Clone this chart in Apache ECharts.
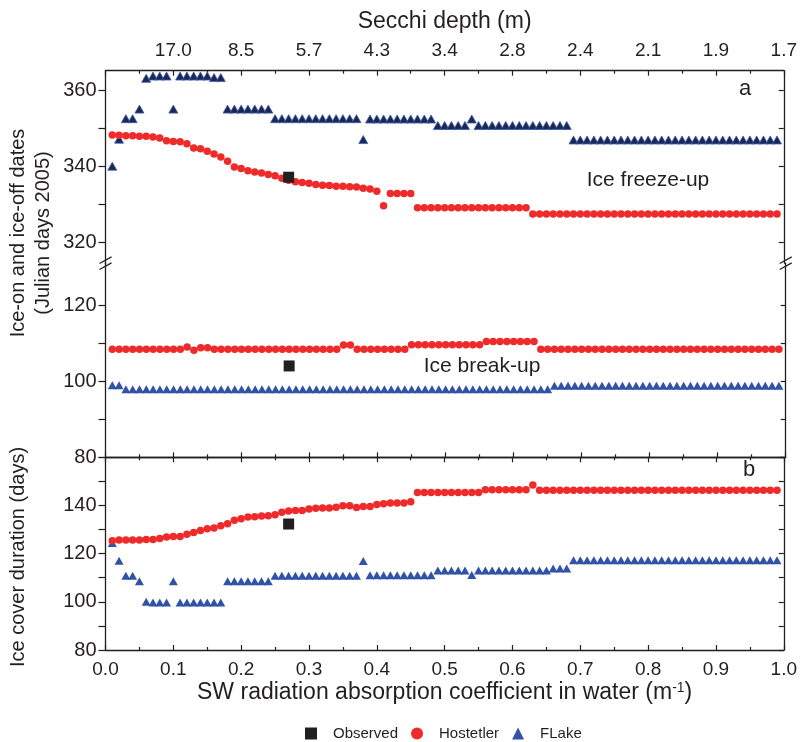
<!DOCTYPE html>
<html>
<head>
<meta charset="utf-8">
<script src="https://cdn.jsdelivr.net/npm/echarts@6.0.0/dist/echarts.min.js"></script>
<style>
  html, body { margin: 0; padding: 0; background: #fff; }
  #main { width: 800px; height: 742px; }
</style>
</head>
<body>
<div id="main"></div>
<script>
"use strict";
// absorption coefficient (m-1), one model run every 0.01
var coef = [
    0.01, 0.02, 0.03, 0.04, 0.05, 0.06, 0.07, 0.08, 0.09, 0.10,
    0.11, 0.12, 0.13, 0.14, 0.15, 0.16, 0.17, 0.18, 0.19, 0.20,
    0.21, 0.22, 0.23, 0.24, 0.25, 0.26, 0.27, 0.28, 0.29, 0.30,
    0.31, 0.32, 0.33, 0.34, 0.35, 0.36, 0.37, 0.38, 0.39, 0.40,
    0.41, 0.42, 0.43, 0.44, 0.45, 0.46, 0.47, 0.48, 0.49, 0.50,
    0.51, 0.52, 0.53, 0.54, 0.55, 0.56, 0.57, 0.58, 0.59, 0.60,
    0.61, 0.62, 0.63, 0.64, 0.65, 0.66, 0.67, 0.68, 0.69, 0.70,
    0.71, 0.72, 0.73, 0.74, 0.75, 0.76, 0.77, 0.78, 0.79, 0.80,
    0.81, 0.82, 0.83, 0.84, 0.85, 0.86, 0.87, 0.88, 0.89, 0.90,
    0.91, 0.92, 0.93, 0.94, 0.95, 0.96, 0.97, 0.98, 0.99
];
var secchiLabels = ['17.0', '8.5', '5.7', '4.3', '3.4', '2.8', '2.4', '2.1', '1.9', '1.7'];

// Hostetler model
var hostFreeze = [
    348.2, 348.1, 348.0, 348.0, 347.9, 347.9, 347.7, 347.4, 346.7, 346.5,
    346.4, 345.9, 344.8, 344.6, 343.9, 343.2, 342.4, 341.3, 339.8, 339.4,
    338.8, 338.5, 338.2, 337.8, 337.5, 336.8, 336.3, 335.9, 335.7, 335.5,
    335.2, 335.0, 334.9, 334.7, 334.7, 334.6, 334.5, 334.2, 334.0, 333.4,
    329.6, 332.8, 332.8, 332.8, 332.8, 329.1, 329.1, 329.1, 329.1, 329.1,
    329.1, 329.1, 329.1, 329.1, 329.1, 329.1, 329.1, 329.1, 329.1, 329.1,
    329.1, 329.1, 327.4, 327.4, 327.4, 327.4, 327.4, 327.4, 327.4, 327.4,
    327.4, 327.4, 327.4, 327.4, 327.4, 327.4, 327.4, 327.4, 327.4, 327.4,
    327.4, 327.4, 327.4, 327.4, 327.4, 327.4, 327.4, 327.4, 327.4, 327.4,
    327.4, 327.4, 327.4, 327.4, 327.4, 327.4, 327.4, 327.4, 327.4
];
var hostBreak = [
    108.4, 108.4, 108.4, 108.4, 108.4, 108.4, 108.4, 108.4, 108.4, 108.4,
    108.4, 109.0, 108.1, 108.8, 108.8, 108.4, 108.4, 108.4, 108.4, 108.4,
    108.4, 108.4, 108.4, 108.4, 108.4, 108.4, 108.4, 108.4, 108.4, 108.4,
    108.4, 108.4, 108.4, 108.4, 109.5, 109.5, 108.4, 108.4, 108.4, 108.4,
    108.4, 108.4, 108.4, 108.4, 109.6, 109.6, 109.6, 109.6, 109.6, 109.6,
    109.6, 109.6, 109.6, 109.6, 109.6, 110.4, 110.4, 110.4, 110.4, 110.4,
    110.4, 110.4, 110.4, 108.4, 108.4, 108.4, 108.4, 108.4, 108.4, 108.4,
    108.4, 108.4, 108.4, 108.4, 108.4, 108.4, 108.4, 108.4, 108.4, 108.4,
    108.4, 108.4, 108.4, 108.4, 108.4, 108.4, 108.4, 108.4, 108.4, 108.4,
    108.4, 108.4, 108.4, 108.4, 108.4, 108.4, 108.4, 108.4, 108.4
];
var hostDuration = [
    125.4, 125.7, 125.7, 125.7, 125.7, 125.9, 125.9, 126.3, 126.9, 127.1,
    127.1, 128.1, 128.8, 129.6, 130.3, 130.6, 131.6, 132.4, 133.9, 134.5,
    135.2, 135.3, 135.6, 135.7, 136.1, 137.2, 137.7, 137.9, 137.9, 138.5,
    138.8, 138.9, 139.0, 139.3, 139.9, 139.9, 139.2, 139.6, 139.6, 140.4,
    140.7, 141.0, 141.0, 141.0, 141.5, 145.4, 145.4, 145.4, 145.4, 145.4,
    145.4, 145.4, 145.4, 145.4, 145.4, 146.5, 146.5, 146.5, 146.5, 146.5,
    146.5, 146.5, 148.5, 146.3, 146.3, 146.3, 146.3, 146.3, 146.3, 146.3,
    146.3, 146.3, 146.3, 146.3, 146.3, 146.3, 146.3, 146.3, 146.3, 146.3,
    146.3, 146.3, 146.3, 146.3, 146.3, 146.3, 146.3, 146.3, 146.3, 146.3,
    146.3, 146.3, 146.3, 146.3, 146.3, 146.3, 146.3, 146.3, 146.3
];

// FLake model
var flakeFreeze = [
    340.0, 347.1, 352.5, 352.5, 355.0, 363.1, 363.7, 363.7, 363.7, 355.0,
    363.7, 363.7, 363.7, 363.7, 363.7, 363.3, 363.3, 355.0, 355.0, 355.0,
    355.0, 355.0, 355.0, 355.0, 352.5, 352.5, 352.5, 352.5, 352.5, 352.5,
    352.5, 352.5, 352.5, 352.5, 352.5, 352.5, 352.5, 347.0, 352.4, 352.4,
    352.4, 352.4, 352.4, 352.4, 352.4, 352.4, 352.4, 352.4, 350.7, 350.7,
    350.7, 350.7, 350.7, 352.4, 350.7, 350.7, 350.7, 350.7, 350.7, 350.7,
    350.7, 350.7, 350.7, 350.7, 350.7, 350.7, 350.7, 350.7, 346.9, 346.9,
    346.9, 346.9, 346.9, 346.9, 346.9, 346.9, 346.9, 346.9, 346.9, 346.9,
    346.9, 346.9, 346.9, 346.9, 346.9, 346.9, 346.9, 346.9, 346.9, 346.9,
    346.9, 346.9, 346.9, 346.9, 346.9, 346.9, 346.9, 346.9, 346.9
];
var flakeBreak = [
    98.9, 98.9, 97.9, 97.9, 97.9, 97.9, 97.9, 97.9, 97.9, 97.9,
    97.9, 97.9, 97.9, 97.9, 97.9, 97.9, 97.9, 97.9, 97.9, 97.9,
    97.9, 97.9, 97.9, 97.9, 97.9, 97.9, 97.9, 97.9, 97.9, 97.9,
    97.9, 97.9, 97.9, 97.9, 97.9, 97.9, 97.9, 97.9, 97.9, 97.9,
    97.9, 97.9, 97.9, 97.9, 97.9, 97.9, 97.9, 97.9, 97.9, 97.9,
    97.9, 97.9, 97.9, 97.9, 97.9, 97.9, 97.9, 97.9, 97.9, 97.9,
    97.9, 97.9, 97.9, 97.9, 97.9, 98.8, 98.8, 98.8, 98.8, 98.8,
    98.8, 98.8, 98.8, 98.8, 98.8, 98.8, 98.8, 98.8, 98.8, 98.8,
    98.8, 98.8, 98.8, 98.8, 98.8, 98.8, 98.8, 98.8, 98.8, 98.8,
    98.8, 98.8, 98.8, 98.8, 98.8, 98.8, 98.8, 98.8, 98.8
];
var flakeDuration = [
    124.4, 117.1, 110.8, 110.8, 108.5, 100.0, 99.7, 99.7, 99.7, 108.5,
    99.7, 99.7, 99.7, 99.7, 99.7, 99.7, 99.7, 108.5, 108.5, 108.5,
    108.5, 108.5, 108.5, 108.5, 110.8, 110.8, 110.8, 110.8, 110.8, 110.8,
    110.8, 110.8, 110.8, 110.8, 110.8, 110.8, 110.8, 116.9, 111.0, 111.0,
    111.0, 111.0, 111.0, 111.0, 111.0, 111.0, 111.0, 111.0, 113.0, 113.0,
    113.0, 113.0, 113.0, 111.1, 113.0, 113.0, 113.0, 113.0, 113.0, 113.0,
    113.0, 113.0, 113.0, 113.0, 113.0, 113.8, 113.8, 113.8, 117.3, 117.3,
    117.3, 117.3, 117.3, 117.3, 117.3, 117.3, 117.3, 117.3, 117.3, 117.3,
    117.3, 117.3, 117.3, 117.3, 117.3, 117.3, 117.3, 117.3, 117.3, 117.3,
    117.3, 117.3, 117.3, 117.3, 117.3, 117.3, 117.3, 117.3, 117.3
];

// observation, 2005
var obsCoef = [0.27];
var obsFreeze = [337.1];
var obsBreak = [104.0];
var obsDuration = [132.3];

var INK = '#231f20';
var RED = '#ef2a2a';
var BLUE = '#3152a6';
var NAVY = '#1c284f';
var FONT = '"Liberation Sans", Arial, Helvetica, sans-serif';

// plot frame (px)
var L = 105.5, R = 14.3;
var topA = 70.7, hA = 192.5;   // freeze-up part of panel a
var topB = 263.2, hB = 194.1;  // break-up part of panel a
var topC = 457.3, hC = 192.7;  // panel b

function pairs(xs, ys) {
    return xs.map(function (x, i) { return [x, ys[i]]; });
}

function xAxisFor(gridIndex, position, showLabel) {
    return {
        type: 'value', gridIndex: gridIndex, position: position, min: 0, max: 1, interval: 0.1,
        axisLine: {show: true, onZero: false, lineStyle: {color: INK, width: 1.3}},
        axisTick: {show: true, inside: true, length: 5, lineStyle: {color: INK, width: 1.2}},
        minorTick: {show: true, splitNumber: 2, length: 3, lineStyle: {color: INK, width: 1.2}},
        axisLabel: {show: showLabel, color: INK, fontSize: 19, fontFamily: FONT, margin: 10},
        splitLine: {show: false}
    };
}

function yAxisFor(gridIndex, position, min, max, labels, ticks) {
    var left = position === 'left';
    return {
        type: 'value', gridIndex: gridIndex, position: position, min: min, max: max,
        axisLine: {show: true, onZero: false, lineStyle: {color: INK, width: 1.3}},
        axisTick: {show: true, inside: !left, length: left ? 7 : 5, customValues: ticks,
            lineStyle: {color: INK, width: 1.2}},
        axisLabel: {show: left, customValues: labels, color: INK, fontSize: 20, fontFamily: FONT, margin: 9},
        splitLine: {show: false}
    };
}

var chart = echarts.init(document.getElementById('main'), null, {renderer: 'canvas'});

var topAxis = xAxisFor(0, 'top', true);
topAxis.axisLabel.formatter = function (v) {
    var i = Math.round(v * 10);
    return i > 0 ? secchiLabels[i - 1] : '';
};
topAxis.name = 'Secchi depth (m)';
topAxis.nameLocation = 'middle';
topAxis.nameGap = 38;
topAxis.nameTextStyle = {fontSize: 23, color: INK, fontFamily: FONT};

var bottomAxis = xAxisFor(2, 'bottom', true);
bottomAxis.axisLabel.formatter = function (v) { return v.toFixed(1); };
bottomAxis.name = 'SW radiation absorption coefficient in water (m{sup|-1})';
bottomAxis.nameLocation = 'middle';
bottomAxis.nameGap = 31;
bottomAxis.nameTextStyle = {
    fontSize: 23, color: INK, fontFamily: FONT,
    rich: {sup: {fontSize: 14, color: INK, fontFamily: FONT, verticalAlign: 'top', padding: [0, 0, 10, 0]}}
};

var ticksA = [320, 330, 340, 350, 360];
var ticksB = [80, 90, 100, 110, 120];
var ticksC = [80, 90, 100, 110, 120, 130, 140, 150, 160];

function breakMarks(x, y) {
    return [-3, 3].map(function (dy) {
        return {
            type: 'line', silent: true,
            shape: {x1: x - 6, y1: y + dy + 3.3, x2: x + 6, y2: y + dy - 3.3},
            style: {stroke: INK, lineWidth: 1.2}
        };
    });
}

function label(text, x, y, size, rotate) {
    return {
        type: 'text', x: x, y: y, rotation: rotate ? Math.PI / 2 : 0, silent: true,
        style: {text: text, fill: INK, font: size + 'px ' + FONT, align: 'center', verticalAlign: 'middle'}
    };
}

function scatter(name, xi, yi, shape, size, style, data, z) {
    return {
        name: name, type: 'scatter', xAxisIndex: xi, yAxisIndex: yi, symbol: shape, symbolSize: size,
        itemStyle: Object.assign({opacity: 1}, style), z: z || 2, data: data
    };
}

var option = {
    backgroundColor: '#fff',
    animation: false,
    grid: [
        {left: L, right: R, top: topA, height: hA},
        {left: L, right: R, top: topB, height: hB},
        {left: L, right: R, top: topC, height: hC}
    ],
    xAxis: [
        topAxis,
        xAxisFor(1, 'bottom', false),
        xAxisFor(2, 'top', false),
        bottomAxis
    ],
    yAxis: [
        yAxisFor(0, 'left', 314.5, 365.1, [320, 340, 360], ticksA),
        yAxisFor(0, 'right', 314.5, 365.1, [], ticksA),
        yAxisFor(1, 'left', 80, 131, [80, 100, 120], ticksB),
        yAxisFor(1, 'right', 80, 131, [], ticksB),
        yAxisFor(2, 'left', 80, 160, [80, 100, 120, 140], ticksC),
        yAxisFor(2, 'right', 80, 160, [], ticksC)
    ],
    legend: {
        left: 300, top: 721, orient: 'horizontal',
        itemWidth: 12, itemHeight: 12, itemGap: 13,
        textStyle: {color: INK, fontSize: 15, fontFamily: FONT, padding: [0, 0, 0, 11]},
        data: [
            {name: 'Observed', icon: 'rect', itemStyle: {color: INK, opacity: 1}},
            {name: 'Hostetler', icon: 'circle', itemStyle: {color: RED, opacity: 1}},
            {name: 'FLake', icon: 'triangle', itemStyle: {color: BLUE, borderWidth: 0, opacity: 1}}
        ]
    },
    series: [
        scatter('FLake', 0, 0, 'triangle', [9, 8], {color: NAVY, borderColor: '#3a5cb5', borderWidth: 0.8},
            pairs(coef, flakeFreeze)),
        scatter('Hostetler', 0, 0, 'circle', 7.5, {color: RED}, pairs(coef, hostFreeze)),
        scatter('Observed', 0, 0, 'rect', 11, {color: INK}, pairs(obsCoef, obsFreeze), 5),

        scatter('FLake', 1, 2, 'triangle', [9, 8], {color: BLUE}, pairs(coef, flakeBreak)),
        scatter('Hostetler', 1, 2, 'circle', 7.5, {color: RED}, pairs(coef, hostBreak)),
        scatter('Observed', 1, 2, 'rect', 11, {color: INK}, pairs(obsCoef, obsBreak), 5),

        scatter('FLake', 3, 4, 'triangle', [9, 8], {color: BLUE}, pairs(coef, flakeDuration)),
        scatter('Hostetler', 3, 4, 'circle', 7.5, {color: RED}, pairs(coef, hostDuration)),
        scatter('Observed', 3, 4, 'rect', 11, {color: INK}, pairs(obsCoef, obsDuration), 5)
    ],
    graphic: [].concat(
        breakMarks(L, topB),
        breakMarks(800 - R, topB),
        [
            label('a', 745, 89, 22),
            label('Ice freeze-up', 648, 180, 21),
            label('Ice break-up', 482, 366, 21),
            label('b', 749, 470, 22),
            label('Ice-on and ice-off dates', 18, 233, 20, true),
            label('(Julian days 2005)', 43, 233, 20, true),
            label('Ice cover duration (days)', 18, 557, 20, true)
        ]
    )
};

chart.setOption(option);
</script>
</body>
</html>
